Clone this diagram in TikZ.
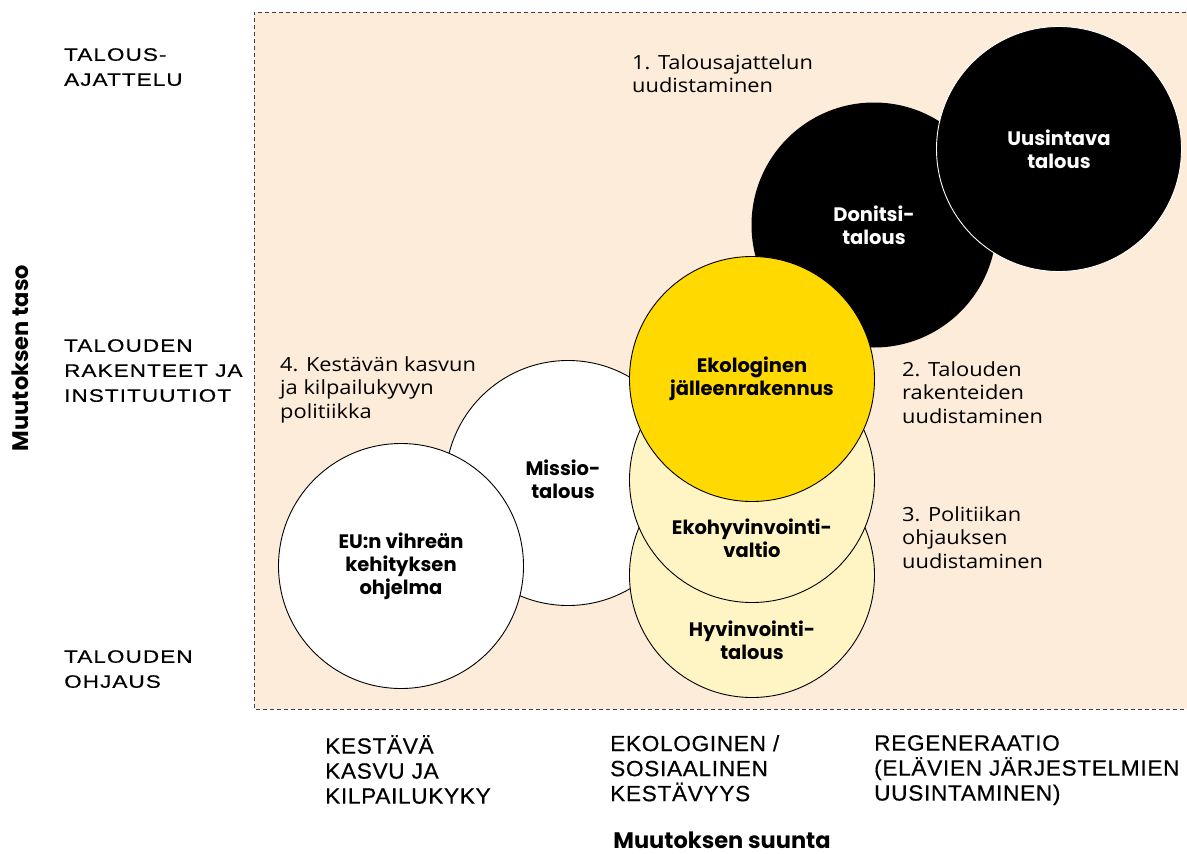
\documentclass[tikz,border=0pt]{standalone}
\usepackage{fontspec}
\setmainfont{Open Sans}[FakeStretch=1.12]
\newfontfamily\axisfont[FakeStretch=1.25,LetterSpace=6,FakeBold=0.4]{Liberation Sans}
\newfontfamily\dirfont[FakeStretch=1.03,LetterSpace=3,FakeBold=0.4]{Liberation Sans}
\newfontfamily\heavyfont{Poppins}
\definecolor{peach}{HTML}{FDECD9}
\definecolor{ekoyellow}{HTML}{FFD900}
\definecolor{paleyellow}{HTML}{FFF5C4}
\begin{document}
\begin{tikzpicture}[x=1pt,y=-1pt,
  bubble/.style={circle, minimum size=245pt, inner sep=0pt, line width=0.9pt, align=center,
    font=\heavyfont\bfseries\fontsize{19.5}{23}\selectfont},
  bubblelab/.style={align=center, inner sep=0pt,
    font=\heavyfont\bfseries\fontsize{19.5}{23}\selectfont},
  note/.style={anchor=north west, align=left, inner sep=0pt,
    font=\fontsize{19.5}{23.5}\selectfont},
  axislab/.style={anchor=north west, align=left, inner sep=0pt,
    font=\axisfont\fontsize{18}{25}\selectfont},
  dirlab/.style={anchor=north west, align=left, inner sep=0pt,
    font=\dirfont\fontsize{22}{25}\selectfont},
  title/.style={inner sep=0pt, font=\heavyfont\bfseries\fontsize{22.5}{24}\selectfont}
]
\useasboundingbox (0,0) rectangle (1187,854);
% background panel
\fill[peach] (254,12) rectangle (1200,709);
\draw[dashed, line width=0.8pt, black!75, dash pattern=on 4pt off 3pt] (1200,12) -- (254,12) -- (254,709) -- (1200,709);

% circles
\node[bubble, fill=black, text=white] (donitsi) at (874,225) {Donitsi-\\talous};
\node[bubble, fill=black, draw=white, text=white] (uusintava) at (1059,149) {Uusintava\\talous};
\node[bubble, fill=white, draw=black] (missio) at (568,483) {};
\node[bubble, fill=white, draw=black] (eu) at (401,566) {EU:n vihreän\\kehityksen\\ohjelma};
\node[bubble, fill=paleyellow, draw=black] (hyvinvointi) at (752,575) {};
\node[bubble, fill=paleyellow, draw=black] (ekohyv) at (752,480) {};
\node[bubble, fill=ekoyellow, draw=black] (ekolog) at (752,379) {Ekologinen\\jälleenrakennus};
% labels of partly covered circles
\node[bubblelab] (missiolab) at (563,479) {Missio-\\talous};
\node[bubblelab] (ekohyvlab) at (752,538) {Ekohyvinvointi-\\valtio};
\node[bubblelab] (hyvlab) at (752,640) {Hyvinvointi-\\talous};

% notes
\node[note] (n1) at (632,54) {1. Talousajattelun\\uudistaminen};
\node[note] (n2) at (902,361) {2. Talouden\\rakenteiden\\uudistaminen};
\node[note] (n3) at (902,506) {3. Politiikan\\ohjauksen\\uudistaminen};
\node[note] (n4) at (280,356) {4. Kestävän kasvun\\ja kilpailukyvyn\\politiikka};

% axis levels
\node[axislab] (l1) at (64,48) {TALOUS-\\AJATTELU};
\node[axislab] (l2) at (64,339) {TALOUDEN\\RAKENTEET JA\\INSTITUUTIOT};
\node[axislab] (l3) at (64,650) {TALOUDEN\\OHJAUS};

% directions
\node[dirlab] (d1) at (325,735) {KESTÄVÄ\\KASVU JA\\KILPAILUKYKY};
\node[dirlab] (d2) at (610,735) {EKOLOGINEN /\\SOSIAALINEN\\KESTÄVYYS};
\node[dirlab] (d3) at (874,735) {REGENERAATIO\\(ELÄVIEN JÄRJESTELMIEN\\UUSINTAMINEN)};

% axis titles
\node[title] (xt) at (722,840) {Muutoksen suunta};
\node[title, rotate=90] (yt) at (20,358) {Muutoksen taso};
\end{tikzpicture}
\end{document}
